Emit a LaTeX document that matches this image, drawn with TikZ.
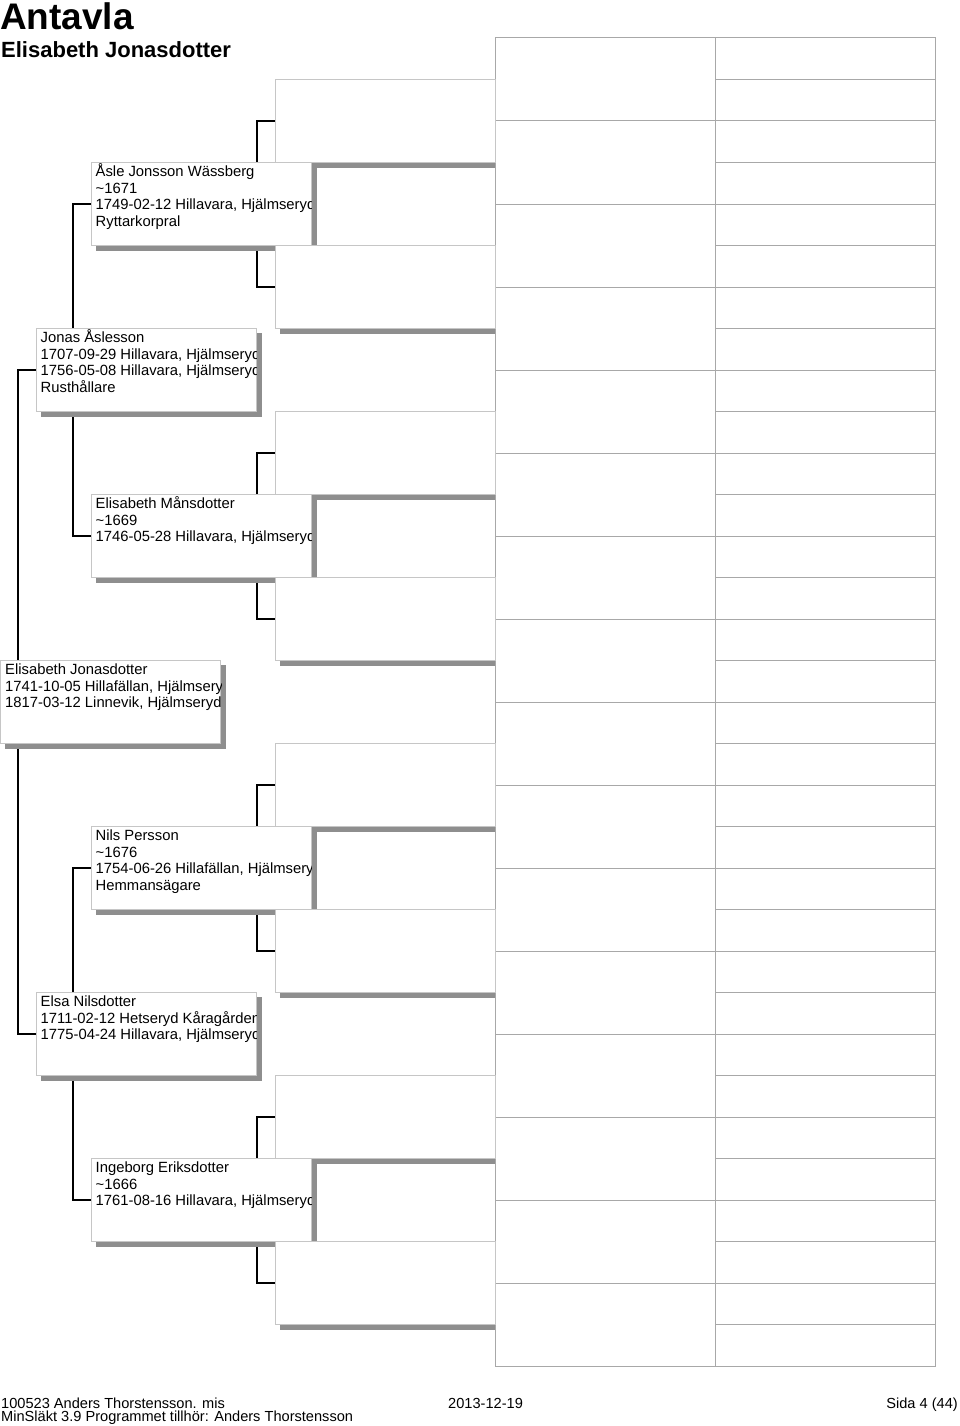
\documentclass[tikz,border=0pt]{standalone}
\usepackage{fontspec}
\setmainfont{Liberation Sans}
\usetikzlibrary{calc}
\definecolor{shadowgray}{HTML}{8E8E8E}
\definecolor{boxline}{HTML}{C6C6C6}
\definecolor{gridline}{HTML}{A8A8A8}
\pgfdeclarelayer{bglayer}
\pgfdeclarelayer{connlayer}
\pgfdeclarelayer{shadowlayer}
\pgfsetlayers{bglayer,connlayer,shadowlayer,main}
\newcommand\boxfont{\fontsize{14.8}{16.6}\selectfont}
\newcommand\PersonText[3]{%
  \begin{scope}
    \clip (#2.south west) rectangle (#2.north east);
    \foreach \tline [count=\i] in {#3} {
      \node[txt] (#1-\i) at ($(#2.north west)+(5,{14.5+16.6*(\i-1)})$) {\tline};
    }
  \end{scope}}
\tikzset{
  conn/.style={line width=2pt, black},
  pbox/.style={draw=boxline, fill=white, line width=1pt, inner sep=0pt,
               minimum width=220pt, minimum height=83pt},
  gbox/.style={draw=gridline, fill=white, line width=1pt, inner sep=0pt,
               minimum width=220pt},
  txt/.style={anchor=base west, inner sep=0pt, font=\boxfont, text=black},
  foot/.style={anchor=base west, inner sep=0pt, font=\fontsize{14.6}{13}\selectfont},
}
\begin{document}
\begin{tikzpicture}[x=1pt,y=-1pt]
\useasboundingbox (0,0) rectangle (960,1426);
\begin{pgfonlayer}{bglayer}
  \fill[white] (0,0) rectangle (960,1426);
\end{pgfonlayer}

% titles
\node[anchor=base west, inner sep=0pt, font=\fontsize{37}{37}\selectfont\bfseries] (title) at (0,30) {Antavla};
\node[anchor=base west, inner sep=0pt, font=\fontsize{22}{22}\selectfont\bfseries] (subtitle) at (1,58) {Elisabeth Jonasdotter};

% generation 5 and 6 grid boxes
\foreach \k in {0,...,15} \node[gbox, minimum height=83pt] (g5-\k) at (605,{79.5+83*\k}) {};
\foreach \k in {0,...,31} \node[gbox, minimum height=41.5pt] (g6-\k) at (825,{58.75+41.5*\k}) {};

% generation 4 (empty)
\foreach \k in {0,...,7} \node[pbox] (g4-\k) at (385,{121+166*\k}) {};

% persons
\node[pbox] (p1) at (110.5,702) {};
\node[pbox] (p2a) at (146,370) {};
\node[pbox] (p2b) at (146,1034) {};
\node[pbox] (p3a) at (201,204) {};
\node[pbox] (p3b) at (201,536) {};
\node[pbox] (p3c) at (201,868) {};
\node[pbox] (p3d) at (201,1200) {};

% shadows
\begin{pgfonlayer}{shadowlayer}
  \foreach \b in {p1,p2a,p2b,p3a,p3b,p3c,p3d,g4-0,g4-1,g4-2,g4-3,g4-4,g4-5,g4-6,g4-7}
    \fill[shadowgray] ($(\b.south west)+(5,5)$) rectangle ($(\b.north east)+(5,5)$);
\end{pgfonlayer}

% connectors
\begin{pgfonlayer}{connlayer}
  \draw[conn] (p2a.west) -- ++(-18,0) |- (p2b.west);
  \draw[conn] (p3a.west) -- ++(-18,0) |- (p3b.west);
  \draw[conn] (p3c.west) -- ++(-18,0) |- (p3d.west);
  \foreach \a/\b in {0/1,2/3,4/5,6/7}
    \draw[conn] (g4-\a.west) -- ++(-18,0) |- (g4-\b.west);
\end{pgfonlayer}

% texts
\PersonText{t1}{p1}{{Elisabeth Jonasdotter},{1741-10-05 Hillafällan, Hjälmseryd},{1817-03-12 Linnevik, Hjälmseryd}}
\PersonText{t2a}{p2a}{{Jonas Åslesson},{1707-09-29 Hillavara, Hjälmseryd},{1756-05-08 Hillavara, Hjälmseryd},{Rusthållare}}
\PersonText{t2b}{p2b}{{Elsa Nilsdotter},{1711-02-12 Hetseryd Kåragården},{1775-04-24 Hillavara, Hjälmseryd}}
\PersonText{t3a}{p3a}{{Åsle Jonsson Wässberg},{\textasciitilde 1671},{1749-02-12 Hillavara, Hjälmseryd},{Ryttarkorpral}}
\PersonText{t3b}{p3b}{{Elisabeth Månsdotter},{\textasciitilde 1669},{1746-05-28 Hillavara, Hjälmseryd}}
\PersonText{t3c}{p3c}{{Nils Persson},{\textasciitilde 1676},{1754-06-26 Hillafällan, Hjälmseryd},{Hemmansägare}}
\PersonText{t3d}{p3d}{{Ingeborg Eriksdotter},{\textasciitilde 1666},{1761-08-16 Hillavara, Hjälmseryd}}

% footer
\node[foot] (f1) at (1,1408) {100523 Anders Thorstensson. mis};
\node[foot] (f2) at (1,1421) {MinSläkt 3.9 Programmet tillhör: Anders Thorstensson};
\node[foot] (f3) at (448,1408) {2013-12-19};
\node[foot, anchor=base east] (f4) at (958,1408) {Sida 4 (44)};
\end{tikzpicture}
\end{document}
